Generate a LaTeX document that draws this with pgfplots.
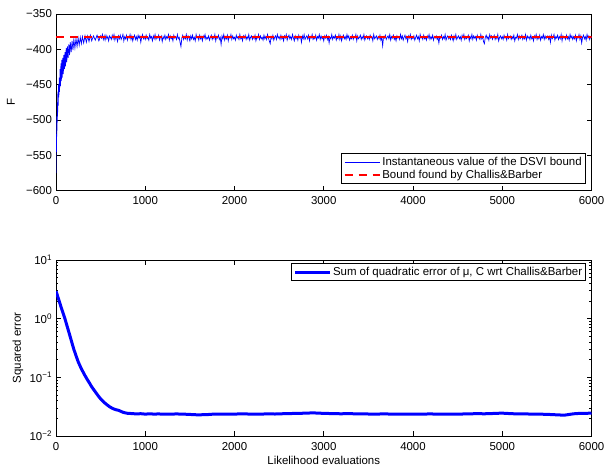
\documentclass[border=0pt]{standalone}
\usepackage{fontspec}
\setmainfont{Liberation Sans}
\usepackage{pgfplots}
\pgfplotsset{compat=1.18}
\pgfplotsset{
  myaxis/.style={
    scale only axis,
    anchor=south west,
    width=535.5bp,
    xmin=0, xmax=6000,
    xtick={0,1000,2000,3000,4000,5000,6000},
    scaled ticks=false,
    /pgf/number format/1000 sep={},
    /pgf/number format/assume math mode=true,
    tick align=inside,
    major tick length=5bp,
    minor tick length=2.5bp,
    axis line style={line width=0.8bp},
    tick style={line width=0.6bp, black},
    xticklabel style={anchor=base, yshift=-14bp},
    legend cell align=left,
    legend style={draw=black, line width=0.6bp, fill=white,
      nodes={inner sep=1.5bp}, inner sep=2bp},
  }
}
\begin{document}
\fontsize{11.5}{13.8}\selectfont
\begin{tikzpicture}
\useasboundingbox (0bp,0bp) rectangle (608bp,467bp);
\begin{axis}[myaxis,
  at={(56bp,276.3bp)}, height=176.7bp,
  ymin=-600, ymax=-350,
  ytick={-600,-550,-500,-450,-400,-350},
  yticklabels={−600,−550,−500,−450,−400,−350},
  ylabel={F},
  ylabel style={at={(axis description cs:-0.084,0.5)}, anchor=center},
  legend style={at={(1,0)}, anchor=south east, xshift=-6bp, yshift=7bp},
  legend image code/.code={\draw[#1] (0bp,0bp) -- (35bp,0bp);},
]
\addplot[color={rgb,1:red,0;green,0;blue,1}, line width=0.7bp] coordinates {
(0,-575)(3,-520)(6,-545)(9,-495)(12,-515)(15,-475)(18,-495)(21,-460)(24,-480)(28,-450)
(32,-468)(36,-440)(40,-460)(45,-428)(50,-452)(55,-420)(60,-445)(65,-415)(70,-440)(76,-412)
(82,-435)(88,-408)(94,-428)(100,-404)(107,-424)(114,-398)(121,-418)(128,-396)(136,-412)(144,-393)
(152,-408)(160,-390)(170,-404)(180,-388)(190,-401)(200,-386)(212,-398)(224,-385)(236,-396)(248,-384)
(260,-394)(272,-383)(284,-392)(296,-382)(310,-391)(325,-381)(340,-390)(355,-381)(370,-389)(385,-380)
(400,-388)(420,-381)(440,-387)(460,-380)(480,-388)(500,-381)
(510,-384)(520,-379)(530,-386)(540,-381)(550,-387)(560,-380)(570,-385)(580,-382)(590,-388)(600,-381)
(610,-383)(620,-386)(630,-380)(640,-385)(650,-379)(660,-387)(670,-382)(680,-384)(690,-389)(700,-381)
(710,-385)(720,-380)(730,-386)(740,-383)(750,-379)(760,-388)(770,-382)(780,-385)(790,-380)(800,-387)
(810,-382)(820,-384)(830,-379)(840,-386)(850,-381)(860,-388)(870,-383)(880,-380)(890,-386)(900,-382)
(910,-387)(920,-380)(930,-384)(940,-381)(950,-390)(960,-383)(970,-379)(980,-385)(990,-382)(1000,-386)
(1010,-380)(1020,-385)(1030,-383)(1040,-387)(1050,-379)(1060,-384)(1070,-382)(1080,-388)(1090,-381)(1100,-385)
(1110,-379)(1120,-386)(1130,-382)(1140,-384)(1150,-380)(1160,-387)(1170,-383)(1180,-381)(1190,-389)(1200,-382)
(1210,-385)(1220,-380)(1230,-386)(1240,-382)(1250,-384)(1260,-379)(1270,-387)(1280,-381)(1290,-385)(1300,-383)
(1310,-388)(1320,-380)(1330,-384)(1340,-382)(1350,-386)(1360,-379)(1370,-385)(1380,-383)(1390,-390)(1400,-396)
(1410,-384)(1420,-380)(1430,-386)(1440,-382)(1450,-385)(1460,-379)(1470,-387)(1480,-381)(1490,-384)(1500,-388)
(1510,-381)(1520,-385)(1530,-380)(1540,-386)(1550,-383)(1560,-388)(1570,-379)(1580,-384)(1590,-382)(1600,-387)
(1610,-380)(1620,-385)(1630,-382)(1640,-388)(1650,-381)(1660,-384)(1670,-379)(1680,-386)(1690,-383)(1700,-385)
(1710,-381)(1720,-387)(1730,-383)(1740,-380)(1750,-386)(1760,-382)(1770,-385)(1780,-379)(1790,-388)(1800,-382)
(1810,-384)(1820,-380)(1830,-386)(1840,-383)(1850,-393)(1860,-381)(1870,-385)(1880,-379)(1890,-387)(1900,-382)
(1910,-385)(1920,-380)(1930,-388)(1940,-382)(1950,-384)(1960,-379)(1970,-386)(1980,-381)(1990,-385)(2000,-383)
(2010,-387)(2020,-380)(2030,-384)(2040,-382)(2050,-386)(2060,-379)(2070,-385)(2080,-383)(2090,-388)(2100,-381)
(2110,-384)(2120,-380)(2130,-386)(2140,-382)(2150,-385)(2160,-379)(2170,-387)(2180,-383)(2190,-381)(2200,-386)
(2210,-382)(2220,-385)(2230,-380)(2240,-388)(2250,-383)(2260,-384)(2270,-379)(2280,-386)(2290,-381)(2300,-385)
(2310,-383)(2320,-387)(2330,-380)(2340,-385)(2350,-382)(2360,-386)(2370,-379)(2380,-384)(2390,-388)(2400,-392)
(2410,-382)(2420,-385)(2430,-380)(2440,-387)(2450,-383)(2460,-381)(2470,-386)(2480,-379)(2490,-384)(2500,-382)
(2510,-386)(2520,-380)(2530,-385)(2540,-382)(2550,-388)(2560,-381)(2570,-384)(2580,-379)(2590,-387)(2600,-383)
(2610,-380)(2620,-385)(2630,-382)(2640,-386)(2650,-379)(2660,-384)(2670,-388)(2680,-381)(2690,-385)(2700,-382)
(2710,-387)(2720,-380)(2730,-384)(2740,-382)(2750,-390)(2760,-381)(2770,-385)(2780,-379)(2790,-386)(2800,-383)
(2810,-381)(2820,-385)(2830,-380)(2840,-388)(2850,-382)(2860,-384)(2870,-379)(2880,-386)(2890,-383)(2900,-385)
(2910,-380)(2920,-387)(2930,-382)(2940,-384)(2950,-379)(2960,-386)(2970,-381)(2980,-385)(2990,-383)(3000,-388)
(3010,-381)(3020,-384)(3030,-380)(3040,-386)(3050,-382)(3060,-391)(3070,-383)(3080,-385)(3090,-379)(3100,-386)
(3110,-382)(3120,-384)(3130,-380)(3140,-387)(3150,-383)(3160,-385)(3170,-379)(3180,-386)(3190,-381)(3200,-388)
(3210,-383)(3220,-380)(3230,-385)(3240,-382)(3250,-386)(3260,-379)(3270,-384)(3280,-381)(3290,-387)(3300,-383)
(3310,-385)(3320,-380)(3330,-386)(3340,-382)(3350,-384)(3360,-379)(3370,-388)(3380,-381)(3390,-385)(3400,-383)
(3410,-380)(3420,-386)(3430,-382)(3440,-385)(3450,-379)(3460,-387)(3470,-383)(3480,-381)(3490,-385)(3500,-382)
(3510,-386)(3520,-380)(3530,-384)(3540,-382)(3550,-388)(3560,-379)(3570,-385)(3580,-383)(3590,-381)(3600,-386)
(3610,-382)(3620,-385)(3630,-380)(3640,-387)(3650,-383)(3660,-395)(3670,-382)(3680,-384)(3690,-380)(3700,-386)
(3710,-383)(3720,-381)(3730,-385)(3740,-379)(3750,-387)(3760,-382)(3770,-384)(3780,-380)(3790,-386)(3800,-383)
(3810,-388)(3820,-381)(3830,-384)(3840,-382)(3850,-386)(3860,-379)(3870,-385)(3880,-381)(3890,-387)(3900,-383)
(3910,-380)(3920,-385)(3930,-382)(3940,-389)(3950,-381)(3960,-384)(3970,-379)(3980,-386)(3990,-383)(4000,-385)
(4010,-381)(4020,-387)(4030,-383)(4040,-380)(4050,-385)(4060,-382)(4070,-388)(4080,-379)(4090,-384)(4100,-382)
(4110,-386)(4120,-380)(4130,-385)(4140,-383)(4150,-387)(4160,-381)(4170,-384)(4180,-379)(4190,-386)(4200,-382)
(4210,-385)(4220,-380)(4230,-387)(4240,-382)(4250,-384)(4260,-381)(4270,-386)(4280,-383)(4290,-391)(4300,-382)
(4310,-384)(4320,-380)(4330,-386)(4340,-382)(4350,-385)(4360,-379)(4370,-387)(4380,-383)(4390,-381)(4400,-385)
(4410,-382)(4420,-386)(4430,-380)(4440,-384)(4450,-388)(4460,-381)(4470,-385)(4480,-379)(4490,-386)(4500,-383)
(4510,-381)(4520,-385)(4530,-382)(4540,-387)(4550,-380)(4560,-384)(4570,-379)(4580,-386)(4590,-382)(4600,-385)
(4610,-383)(4620,-380)(4630,-388)(4640,-382)(4650,-385)(4660,-379)(4670,-386)(4680,-381)(4690,-384)(4700,-382)
(4710,-387)(4720,-380)(4730,-384)(4740,-383)(4750,-386)(4760,-379)(4770,-385)(4780,-382)(4790,-389)(4800,-392)
(4810,-383)(4820,-380)(4830,-385)(4840,-382)(4850,-387)(4860,-379)(4870,-384)(4880,-381)(4890,-386)(4900,-383)
(4910,-380)(4920,-386)(4930,-382)(4940,-385)(4950,-379)(4960,-388)(4970,-383)(4980,-381)(4990,-385)(5000,-382)
(5010,-386)(5020,-380)(5030,-384)(5040,-382)(5050,-387)(5060,-379)(5070,-385)(5080,-383)(5090,-381)(5100,-386)
(5110,-382)(5120,-385)(5130,-380)(5140,-388)(5150,-383)(5160,-384)(5170,-379)(5180,-386)(5190,-381)(5200,-385)
(5210,-383)(5220,-380)(5230,-386)(5240,-382)(5250,-385)(5260,-379)(5270,-387)(5280,-381)(5290,-384)(5300,-382)
(5310,-386)(5320,-380)(5330,-385)(5340,-383)(5350,-388)(5360,-381)(5370,-384)(5380,-379)(5390,-386)(5400,-382)
(5410,-385)(5420,-380)(5430,-387)(5440,-382)(5450,-384)(5460,-379)(5470,-386)(5480,-381)(5490,-385)(5500,-383)
(5510,-381)(5520,-386)(5530,-382)(5540,-390)(5550,-380)(5560,-385)(5570,-383)(5580,-379)(5590,-387)(5600,-382)
(5610,-384)(5620,-380)(5630,-386)(5640,-382)(5650,-385)(5660,-379)(5670,-388)(5680,-381)(5690,-384)(5700,-383)
(5710,-386)(5720,-380)(5730,-385)(5740,-382)(5750,-387)(5760,-379)(5770,-384)(5780,-381)(5790,-386)(5800,-382)
(5810,-385)(5820,-380)(5830,-388)(5840,-383)(5850,-384)(5860,-379)(5870,-386)(5880,-381)(5890,-391)(5900,-383)
(5910,-380)(5920,-385)(5930,-382)(5940,-387)(5950,-379)(5960,-384)(5970,-381)(5980,-386)(5990,-382)(6000,-384)
};
\addlegendentry{Instantaneous value of the DSVI bound}
\addplot[red, line width=2.2bp, dash pattern=on 8bp off 6bp] coordinates {(0,-383) (6000,-383)};
\addlegendentry{Bound found by Challis\&Barber}
\end{axis}
\begin{axis}[myaxis,
  at={(56bp,31bp)}, height=176bp,
  ymode=log,
  ymin=0.01, ymax=10,
  ytick={0.01,0.1,1,10},
  yticklabels={10\textsuperscript{−2},10\textsuperscript{−1},10\textsuperscript{0},10\textsuperscript{1}},
  ylabel={Squared error},
  ylabel style={at={(axis description cs:-0.071,0.5)}, anchor=center},
  xlabel={Likelihood evaluations},
  xlabel style={at={(axis description cs:0.5,0)}, anchor=base, yshift=-28bp},
  legend style={at={(1,1)}, anchor=north east, xshift=-5.5bp, yshift=-3.3bp},
  legend image code/.code={\draw[#1] (0bp,0bp) -- (35bp,0bp);},
]
\addplot[blue, line width=3bp] coordinates {
(0,2.95)(25,2.25)(50,1.70)(75,1.30)(100,1.00)(125,0.74)(150,0.55)(175,0.405)(200,0.300)(225,0.232)
(250,0.182)(275,0.150)(300,0.126)(325,0.107)(350,0.092)(375,0.080)(400,0.069)(425,0.061)(450,0.054)(475,0.048)
(500,0.043)(525,0.0395)(550,0.0362)(575,0.0337)(600,0.0316)(625,0.0300)(650,0.0288)(675,0.0280)(700,0.0274)(725,0.0264)
(750,0.0254)(775,0.0248)(800,0.0244)(850,0.0241)(900,0.0238)(950,0.0240)(1000,0.0236)(1050,0.0239)(1100,0.0236)
(1150,0.0238)(1200,0.0235)(1250,0.0237)(1300,0.0236)(1350,0.0238)(1400,0.0236)(1450,0.0235)(1500,0.0233)(1550,0.0231)(1600,0.0229)
(1650,0.0231)(1700,0.0232)(1750,0.0235)(1800,0.0236)(1850,0.0235)(1900,0.0237)(1950,0.0235)(2000,0.0236)(2050,0.0238)(2100,0.0239)
(2150,0.0237)(2200,0.0237)(2250,0.0235)(2300,0.0236)(2350,0.0238)(2400,0.0239)(2450,0.0237)(2500,0.0238)(2550,0.0240)(2600,0.0240)
(2650,0.0242)(2700,0.0242)(2750,0.0244)(2800,0.0245)(2850,0.0247)(2900,0.0247)(2950,0.0245)(3000,0.0243)(3050,0.0242)(3100,0.0241)
(3150,0.0240)(3200,0.0239)(3250,0.0241)(3300,0.0240)(3350,0.0239)(3400,0.0238)(3450,0.0239)(3500,0.0237)(3550,0.0237)(3600,0.0236)
(3650,0.0238)(3700,0.0238)(3750,0.0236)(3800,0.0237)(3850,0.0236)(3900,0.0235)(3950,0.0236)(4000,0.0237)(4050,0.0235)(4100,0.0236)
(4150,0.0237)(4200,0.0238)(4250,0.0236)(4300,0.0236)(4350,0.0237)(4400,0.0235)(4450,0.0236)(4500,0.0237)(4550,0.0237)(4600,0.0238)
(4650,0.0239)(4700,0.0240)(4750,0.0240)(4800,0.0239)(4850,0.0241)(4900,0.0242)(4950,0.0244)(5000,0.0245)(5050,0.0243)(5100,0.0240)
(5150,0.0239)(5200,0.0238)(5250,0.0238)(5300,0.0237)(5350,0.0237)(5400,0.0236)(5450,0.0235)(5500,0.0234)(5550,0.0232)(5600,0.0230)
(5650,0.0228)(5700,0.0227)(5750,0.0233)(5800,0.0239)(5850,0.0242)(5900,0.0244)(5950,0.0244)(6000,0.0245)
};
\addlegendentry{Sum of quadratic error of μ, C wrt Challis\&Barber}
\end{axis}
\end{tikzpicture}
\end{document}
